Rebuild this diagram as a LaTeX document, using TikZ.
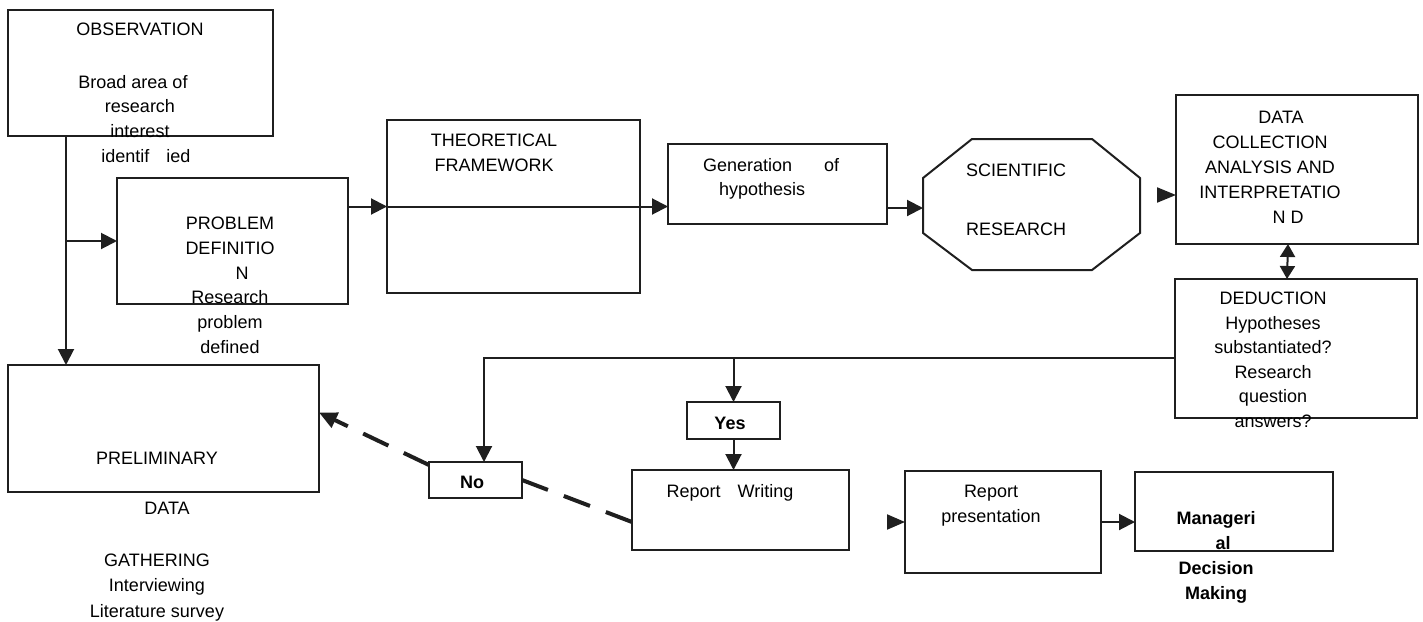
\documentclass[tikz,border=0pt]{standalone}
\usepackage{fontspec}
\setmainfont{Liberation Sans}
\usetikzlibrary{arrows.meta}
\begin{document}
\begin{tikzpicture}[x=1pt,y=-1pt,
  box/.style={draw=black!88,line width=2pt,inner sep=0pt,outer sep=0pt,rectangle,fill=white},
  ghost/.style={inner sep=0pt,outer sep=0pt,rectangle},
  txt/.style={inner sep=0pt,outer sep=0pt,align=center,anchor=north,text=black,font=\fontsize{18}{24.8}\selectfont},
  btxt/.style={txt,font=\fontsize{18}{25}\selectfont\bfseries},
  arr/.style={draw=black!88,line width=2pt,-{Triangle[length=16pt,width=16pt]}},
  darr/.style={draw=black!88,line width=2pt,{Triangle[length=13pt,width=15pt]}-{Triangle[length=13pt,width=15pt]}},
  dasharr/.style={draw=black!88,line width=4pt,dash pattern=on 28pt off 17pt},
]
\useasboundingbox (0,0) rectangle (1423,621);

% ---------- boxes ----------
\node[box,minimum width=265pt,minimum height=126pt] (obs) at (140.5,73) {};
\node[box,minimum width=231pt,minimum height=126pt] (prob) at (232.5,241) {};
\node[box,minimum width=253pt,minimum height=173pt] (theo) at (513.5,206.5) {};
\node[box,minimum width=219pt,minimum height=80pt] (gen) at (777.5,184) {};
\node[ghost,minimum width=217pt,minimum height=131pt] (sci) at (1031.5,204.5) {};
\draw[draw=black!88,line width=2pt,line join=miter]
  ([xshift=49pt]sci.north west) -- ([xshift=-48pt]sci.north east)
  -- ([yshift=-39pt]sci.north east) -- ([yshift=37pt]sci.south east)
  -- ([xshift=-48pt]sci.south east) -- ([xshift=49pt]sci.south west)
  -- ([yshift=37pt]sci.south west) -- ([yshift=-39pt]sci.north west) -- cycle;
\node[box,minimum width=242pt,minimum height=149pt] (data) at (1297,169.5) {};
\node[box,minimum width=242pt,minimum height=139pt] (ded) at (1296,348.5) {};
\node[box,minimum width=311pt,minimum height=127pt] (prelim) at (163.5,428.5) {};
\node[box,minimum width=93pt,minimum height=37pt] (yes) at (733.5,420.5) {};
\node[box,minimum width=93pt,minimum height=36pt] (no) at (475.5,480) {};
\node[box,minimum width=217pt,minimum height=80pt] (rw) at (740.5,510) {};
\node[box,minimum width=196pt,minimum height=102pt] (rp) at (1003,522) {};
\node[box,minimum width=198pt,minimum height=79pt] (mgr) at (1234,511.5) {};

% ---------- texts ----------
\node[txt] (tobs1) at (140,23) {OBSERVATION};
\node[txt] (tobs2) at (140,75) {Broad area of\hspace*{14pt}\\research\\interest\\\hspace*{12pt}identif\hspace{17pt}ied};
\node[txt] (tprob) at (230,217) {PROBLEM\\DEFINITIO\\\hspace*{24pt}N\\Research\\problem\\defined};
\node[txt] (ttheo) at (494,134) {THEORETICAL\\FRAMEWORK};
\node[txt,align=left,anchor=north west] (tgen) at (703,158) {Generation\hspace{32pt}of\\\hspace*{16pt}hypothesis};
\node[txt] (tsci) at (1016,164) {SCIENTIFIC\\[34pt]RESEARCH};
\node[txt,font=\fontsize{18}{25}\selectfont] (tdata) at (1270,111) {\hspace*{22pt}DATA\\COLLECTION\\ANALYSIS AND\\INTERPRETATIO\\\hspace*{36pt}N D};
\node[txt,font=\fontsize{18}{24.6}\selectfont] (tded) at (1273,292) {DEDUCTION\\Hypotheses\\substantiated?\\Research\\question\\answers?};
\node[txt,font=\fontsize{18}{25.5}\selectfont] (tpre) at (157,452) {PRELIMINARY\\[24.5pt]\hspace*{20pt}DATA\\[26.5pt]GATHERING\\Interviewing\\Literature survey};
\node[btxt] (tyes) at (730,417) {Yes};
\node[btxt] (tno) at (472,476) {No};
\node[txt] (trw) at (730,484) {Report\hspace{17pt}Writing};
\node[txt,font=\fontsize{18}{25}\selectfont] (trp) at (991,485) {Report\\presentation};
\node[btxt] (tmgr) at (1216,511) {Manageri\\\hspace*{14pt}al\\Decision\\Making};

% ---------- connectors ----------
\coordinate (vline) at ([xshift=58pt]obs.south west);
\draw[arr] (vline) -- ([xshift=58pt]prelim.north west);
\draw[arr] (prob.west -| vline) -- (prob.west);
\draw[arr] (theo.west -| prob.east) -- (theo.west);
\draw[arr] (theo.west) -- (theo.west -| gen.west);
\draw[arr] ([yshift=-3.5pt]sci.west -| gen.east) -- ([yshift=-3.5pt]sci.west);
\draw[arr,-{Triangle[length=19pt,width=15pt]}] ([xshift=-19pt,yshift=-25.5pt]data.west) -- ([yshift=-25.5pt]data.west);
\draw[darr] ([xshift=-9pt]data.south) -- ([xshift=-9pt]ded.north);
\coordinate (hl) at ([yshift=-9.5pt]ded.west);
\draw[arr] (hl) -| ([xshift=8.5pt]no.north);
\draw[arr] (yes.north |- hl) -- (yes.north);
\draw[arr] (yes.south) -- (yes.south |- rw.north);
\draw[arr,-{Triangle[length=18pt,width=15pt]}] ([xshift=-18pt]rp.west) -- (rp.west);
\draw[arr] (rp.east) -- (rp.east -| mgr.west);

% ---------- dashed "No" path ----------
\draw[dasharr] ([yshift=-12pt]rw.west) -- (no.east);
\draw[dasharr,-{Triangle[length=18pt,width=16pt]}] ([yshift=15pt]no.west) -- ([yshift=16pt]prelim.east);
\end{tikzpicture}
\end{document}
